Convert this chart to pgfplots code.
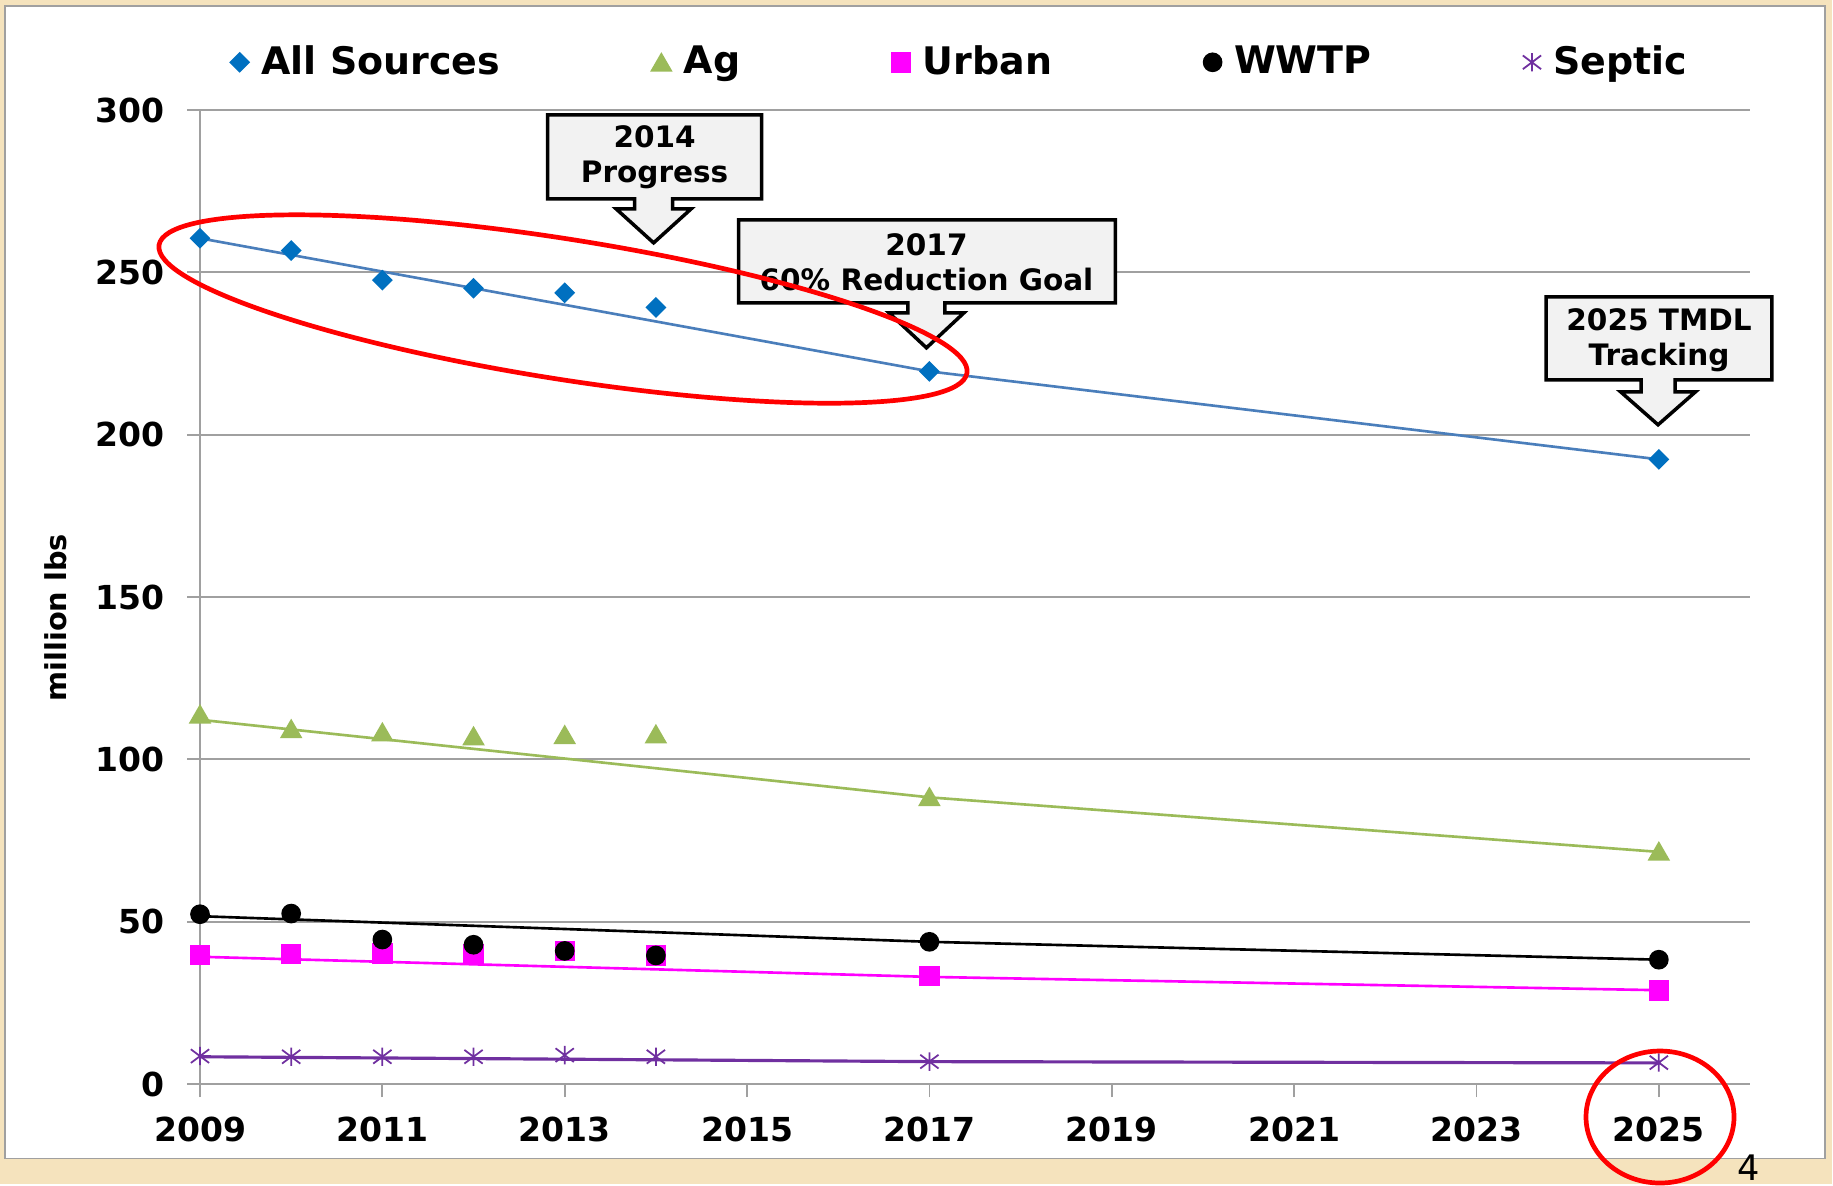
\documentclass[border=0pt]{standalone}
\usepackage{fontspec}
\setmainfont{DejaVu Sans}
\usepackage{pgfplots}
\pgfplotsset{compat=1.18}

\definecolor{bgbeige}{RGB}{245,227,189}
\definecolor{allblue}{RGB}{0,112,192}
\definecolor{allline}{RGB}{74,126,187}
\definecolor{aggreen}{RGB}{155,187,89}
\definecolor{urbmag}{RGB}{255,0,255}
\definecolor{seppurp}{RGB}{112,48,160}
\definecolor{gridgray}{RGB}{160,160,160}
\definecolor{callfill}{RGB}{242,242,242}

\pgfdeclareplotmark{xstar}{%
  \pgfpathmoveto{\pgfqpoint{0pt}{\pgfplotmarksize}}%
  \pgfpathlineto{\pgfqpoint{0pt}{-\pgfplotmarksize}}%
  \pgfpathmoveto{\pgfqpoint{-\pgfplotmarksize}{.75\pgfplotmarksize}}%
  \pgfpathlineto{\pgfqpoint{\pgfplotmarksize}{-.75\pgfplotmarksize}}%
  \pgfpathmoveto{\pgfqpoint{-\pgfplotmarksize}{-.75\pgfplotmarksize}}%
  \pgfpathlineto{\pgfqpoint{\pgfplotmarksize}{.75\pgfplotmarksize}}%
  \pgfusepathqstroke}

% callout: #1 L, #2 R, #3 T, #4 B, #5 tipX, #6 stem half width, #7 stem bottom, #8 head half width, #9 tipY (pixel coords, y down)
\newcommand{\callout}[9]{%
  \draw[fill=callfill, draw=black, line width=0.035cm, line join=miter]
    (#1,#3) -- (#2,#3) -- (#2,#4) -- ({#5+#6},#4) -- ({#5+#6},#7) -- ({#5+#8},#7) -- (#5,#9)
    -- ({#5-#8},#7) -- ({#5-#6},#7) -- ({#5-#6},#4) -- (#1,#4) -- cycle;}

\begin{document}
\begin{tikzpicture}
\useasboundingbox (0,0) rectangle (18.33cm,-11.85cm);
\clip (0,0) rectangle (18.33cm,-11.85cm);
\begin{scope}[x=0.01cm,y=-0.01cm]
  \fill[bgbeige] (0,0) rectangle (1833,1185);
  \draw[fill=white, draw=gridgray, line width=0.015cm] (5,6) rectangle (1826,1159);
\end{scope}

\begin{axis}[
  at={(2cm,-10.84cm)}, anchor=south west,
  scale only axis, width=15.5cm, height=9.74cm,
  xmin=2009, xmax=2026, ymin=0, ymax=300,
  xtick={2009,2011,...,2025}, ytick={0,50,...,300},
  axis x line=bottom, axis y line=left,
  axis line style={draw=gridgray, line width=0.5pt, -},
  ymajorgrids, grid style={draw=gridgray, line width=0.5pt},
  tick align=outside, major tick length=0.13cm,
  tick style={draw=gridgray, line width=0.5pt},
  /pgf/number format/assume math mode=true,
  /pgf/number format/set thousands separator={},
  ticklabel style={font=\fontsize{9.4}{11}\selectfont\bfseries},
  xticklabel style={yshift=-0.08cm},
  yticklabel style={xshift=-0.1cm},
  clip=false,
  legend columns=5,
  legend style={at={(0.0195,1.049)}, anchor=west, draw=none, fill=none,
    inner sep=0pt, outer sep=0pt,
    font=\fontsize{10.8}{12}\selectfont\bfseries,
    nodes={inner xsep=3.5pt},
    /tikz/every even column/.append style={column sep=1.39cm}},
  legend image code/.code={\draw[mark repeat=2,mark phase=2,#1] plot coordinates {(0cm,0cm)(0.08cm,0cm)(0.16cm,0cm)};},
]
% trend lines
\addplot[allline, line width=0.75pt, forget plot] coordinates {(2009,260.5)(2017,219.5)(2025,192.4)};
\addplot[aggreen, line width=0.75pt, forget plot] coordinates {(2009,112.2)(2017,88.3)(2025,71.5)};
\addplot[urbmag, line width=0.75pt, forget plot] coordinates {(2009,39.2)(2017,33.0)(2025,28.9)};
\addplot[black, line width=0.75pt, forget plot] coordinates {(2009,51.7)(2017,43.8)(2025,38.3)};
\addplot[seppurp, line width=0.9pt, forget plot] coordinates {(2009,8.4)(2017,6.9)(2025,6.5)};
% data markers
\addplot[only marks, mark=square*, mark size=1.9pt, mark options={rotate=45, fill=allblue, draw=allblue}]
  coordinates {(2009,260.5)(2010,256.7)(2011,247.6)(2012,245.1)(2013,243.7)(2014,239.2)(2017,219.5)(2025,192.4)};
\addlegendentry{All Sources}
\addplot[only marks, mark=triangle*, mark size=3.3pt, mark options={fill=aggreen, draw=aggreen, yshift=-0.8pt}]
  coordinates {(2009,113.9)(2010,109.4)(2011,108.4)(2012,107.2)(2013,107.6)(2014,107.8)(2017,88.5)(2025,71.7)};
\addlegendentry{Ag}
\addplot[only marks, mark=square*, mark size=2.7pt, mark options={fill=urbmag, draw=urbmag}]
  coordinates {(2009,39.7)(2010,40.1)(2011,40.2)(2012,40.1)(2013,40.9)(2014,39.6)(2017,33.2)(2025,28.8)};
\addlegendentry{Urban}
\addplot[only marks, mark=*, mark size=2.6pt, mark options={fill=black, draw=black}]
  coordinates {(2009,52.3)(2010,52.5)(2011,44.5)(2012,42.9)(2013,41.0)(2014,39.6)(2017,43.8)(2025,38.3)};
\addlegendentry{WWTP}
\addplot[only marks, mark=xstar, mark size=2.6pt, mark options={draw=seppurp, line width=0.5pt}]
  coordinates {(2009,8.6)(2010,8.4)(2011,8.4)(2012,8.4)(2013,8.9)(2014,8.4)(2017,6.9)(2025,6.6)};
\addlegendentry{Septic}
\end{axis}

\begin{scope}[x=0.01cm,y=-0.01cm]
  % y label
  \node[rotate=90, font=\fontsize{8.2}{10}\selectfont\bfseries] at (56,618) {million lbs};
  % callouts
  \callout{548}{762}{115}{199}{654}{19}{209}{37.5}{243}
  \callout{739}{1116}{220}{303}{927}{18.5}{313}{37.5}{348}
  \callout{1547}{1773}{297}{380}{1659}{17}{392}{37.5}{425}
  \node[align=center, font=\fontsize{8.4}{10}\selectfont\bfseries] at (655,157) {2014\\Progress};
  \node[align=center, font=\fontsize{8.4}{10}\selectfont\bfseries] at (927,262) {2017\\60\% Reduction Goal};
  \node[align=center, font=\fontsize{8.4}{10}\selectfont\bfseries] at (1660,340) {2025 TMDL\\Tracking};
  % page number
  \node[anchor=south, inner sep=0pt, font=\fontsize{10}{12}\selectfont] at (1750,1182) {4};
\end{scope}
% red ellipses
\draw[red, line width=0.047cm, rotate around={-9:(5.63cm,-3.09cm)}] (5.63cm,-3.09cm) ellipse [x radius=4.09cm, y radius=0.70cm];
\draw[red, line width=0.047cm] (16.60cm,-11.17cm) ellipse [x radius=0.74cm, y radius=0.66cm];
\end{tikzpicture}
\end{document}
